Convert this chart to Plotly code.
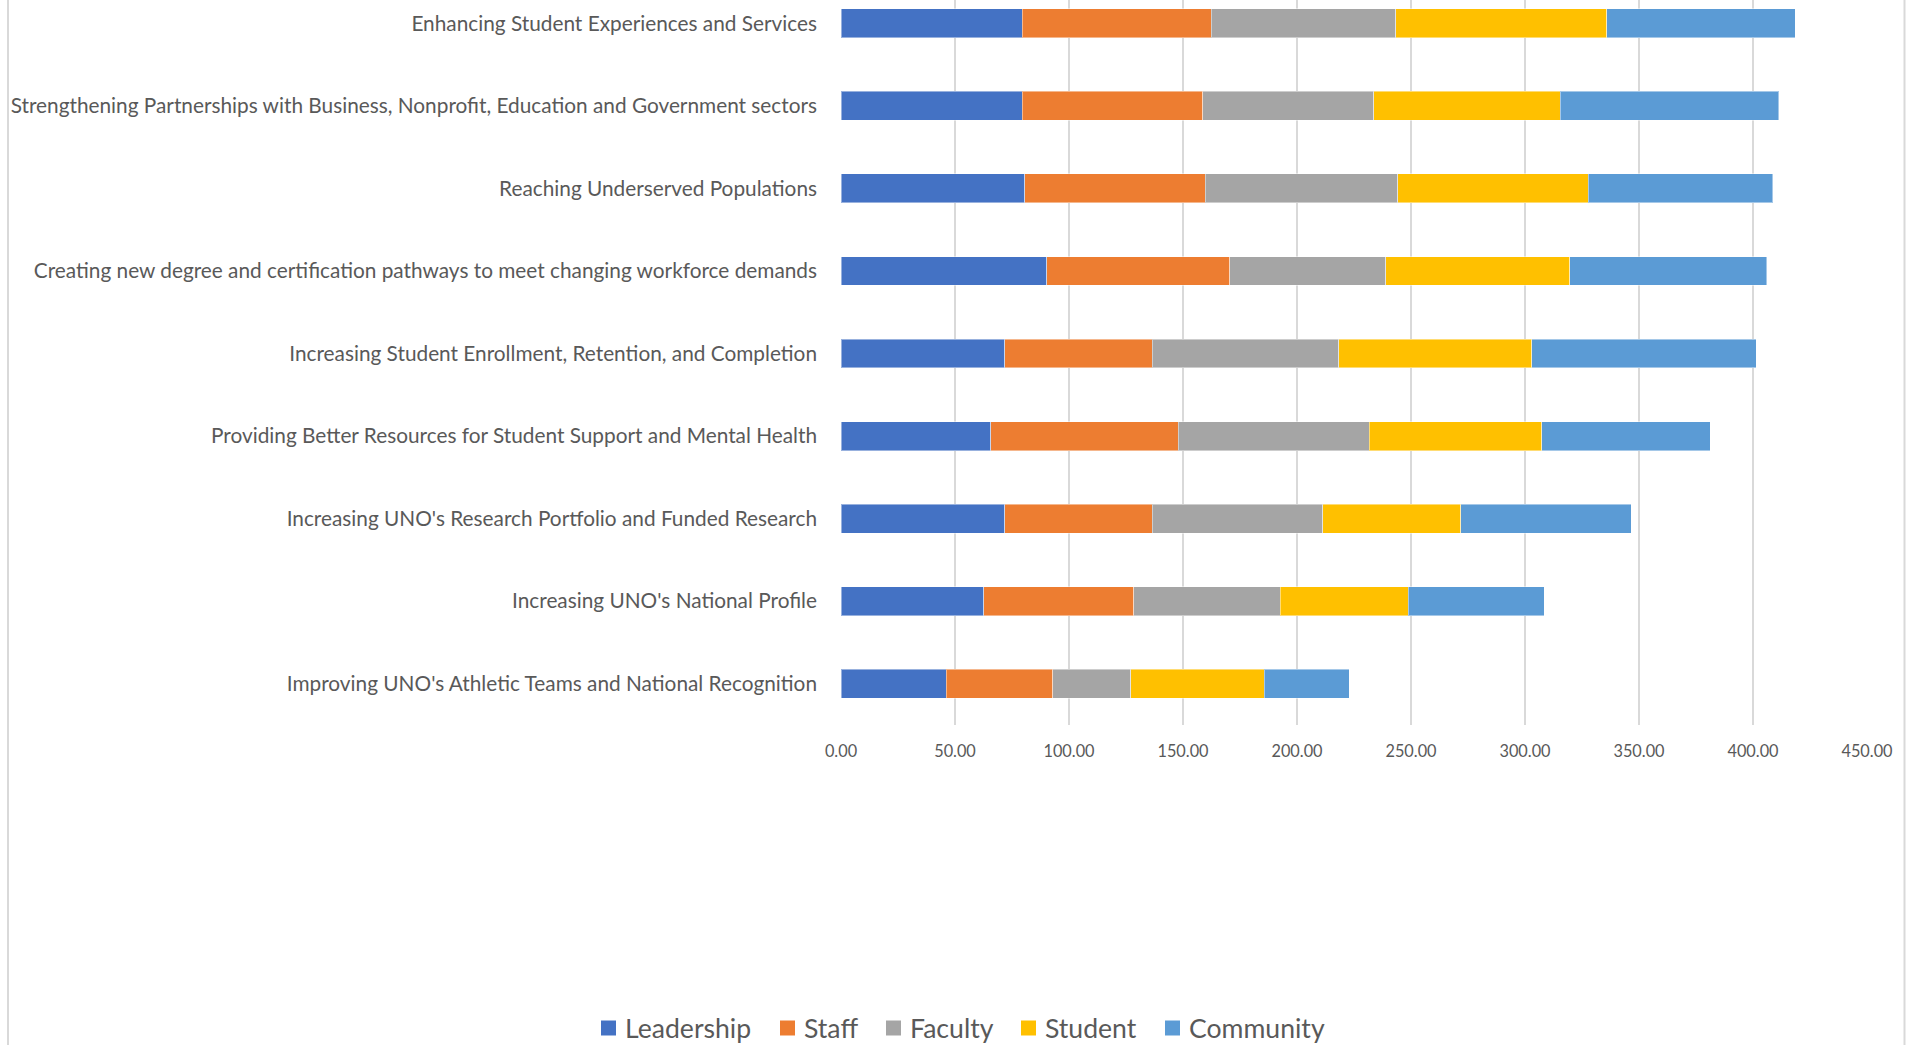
import plotly.graph_objects as go

# Strategic priorities, listed top to bottom
priorities = [
    "Enhancing Student Experiences and Services",
    "Strengthening Partnerships with Business, Nonprofit, Education and Government sectors",
    "Reaching Underserved Populations",
    "Creating new degree and certification pathways to meet changing workforce demands",
    "Increasing Student Enrollment, Retention, and Completion",
    "Providing Better Resources for Student Support and Mental Health",
    "Increasing UNO's Research Portfolio and Funded Research",
    "Increasing UNO's National Profile",
    "Improving UNO's Athletic Teams and National Recognition",
]

leadership = [79.6, 79.6, 80.5, 90.2, 71.8, 65.7, 71.8, 62.7, 46.1]
staff = [82.7, 79.1, 79.2, 80.3, 64.8, 82.3, 64.8, 65.8, 46.8]
faculty = [80.9, 74.9, 84.4, 68.4, 81.6, 83.7, 74.7, 64.2, 34.2]
student = [92.7, 81.9, 83.6, 80.7, 84.8, 75.6, 60.5, 56.1, 58.5]
community = [82.6, 95.7, 80.9, 86.4, 98.5, 74.0, 74.8, 59.6, 37.3]

x_ticks = [0, 50, 100, 150, 200, 250, 300, 350, 400, 450]

series = [
    ("Leadership", leadership, "#4472C4"),
    ("Staff", staff, "#ED7D31"),
    ("Faculty", faculty, "#A5A5A5"),
    ("Student", student, "#FFC000"),
    ("Community", community, "#5B9BD5"),
]

FONT = "Lato, 'Open Sans', sans-serif"
TEXT = "#595959"
GRID = "#D9D9D9"

W, H = 1919, 1045
ML, MR, MT, MB = 841, 52, 0, 320
pw = W - ML - MR
ph = H - MT - MB


def px_to_paper_x(px):
    return (px - ML) / pw


def px_to_paper_y(py):
    return (H - MB - py) / ph


fig = go.Figure()
for name, vals, color in series:
    fig.add_trace(go.Bar(
        y=priorities,
        x=vals,
        name=name,
        orientation="h",
        marker=dict(color=color, line=dict(color="rgba(255,255,255,0.45)", width=1)),
        showlegend=False,
        hovertemplate="%{y}<br>" + name + ": %{x:.2f}<extra></extra>",
    ))

# Legend row drawn below the chart: swatch left edges in pixels
legend_left_px = [601, 780, 886, 1021, 1165]
legend_mid_px = 1028
swatch = 15
shapes = []
annotations = []
for (name, _, color), lx in zip(series, legend_left_px):
    shapes.append(dict(
        type="rect", xref="paper", yref="paper",
        x0=px_to_paper_x(lx), x1=px_to_paper_x(lx + swatch),
        y0=px_to_paper_y(legend_mid_px - swatch / 2),
        y1=px_to_paper_y(legend_mid_px + swatch / 2),
        fillcolor=color, line=dict(width=0),
    ))
    annotations.append(dict(
        xref="paper", yref="paper",
        x=px_to_paper_x(lx + swatch + 7), y=px_to_paper_y(legend_mid_px),
        xanchor="left", yanchor="middle",
        text=name, showarrow=False,
        font=dict(family=FONT, size=26.6, color=TEXT),
    ))

# Light chart-area border on the left and right
for bx in (8, 1904.5):
    shapes.append(dict(
        type="line", xref="paper", yref="paper",
        x0=px_to_paper_x(bx), x1=px_to_paper_x(bx),
        y0=px_to_paper_y(-5), y1=px_to_paper_y(H + 5),
        line=dict(color=GRID, width=2),
    ))

fig.update_layout(
    width=W,
    height=H,
    barmode="stack",
    bargap=0.65,
    paper_bgcolor="white",
    plot_bgcolor="white",
    margin=dict(l=ML, r=MR, t=MT, b=MB, pad=0),
    font=dict(family=FONT, color=TEXT),
    showlegend=False,
    xaxis=dict(
        range=[0, 450],
        tickvals=x_ticks,
        ticktext=[f"{v:.2f}" for v in x_ticks],
        showgrid=True,
        gridcolor=GRID,
        gridwidth=2,
        zeroline=False,
        showline=False,
        ticks="",
        tickfont=dict(family=FONT, size=16.3, color=TEXT),
        ticklabelstandoff=15,
    ),
    yaxis=dict(
        categoryorder="array",
        categoryarray=priorities[::-1],
        range=[-0.5, 8.282],
        showgrid=False,
        zeroline=False,
        showline=False,
        ticks="",
        tickfont=dict(family=FONT, size=20.8, color=TEXT),
        ticklabelstandoff=23,
    ),
    shapes=shapes,
    annotations=annotations,
)

fig.write_html("out.html")
